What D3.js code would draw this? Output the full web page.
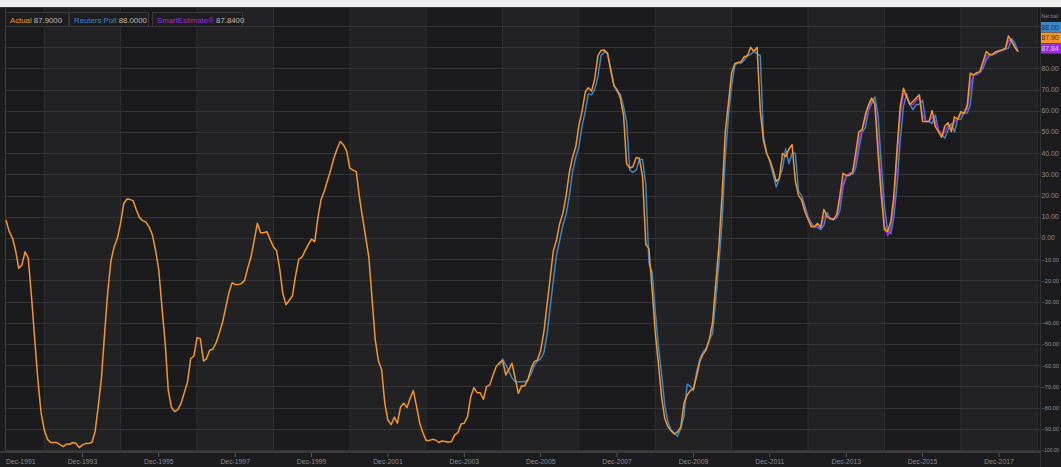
<!DOCTYPE html>
<html>
<head>
<meta charset="utf-8">
<script src="https://cdn.jsdelivr.net/npm/d3@7"></script>
<style>
html,body{margin:0;padding:0;background:#1c1c1e;overflow:hidden;}
svg{display:block;}
text{font-family:"Liberation Sans Narrow","Liberation Sans",Arial,sans-serif;}
</style>
</head>
<body>
<svg id="chart" width="1061" height="467"></svg>
<script>
// ---------------- DATA ----------------
const seriesNames = ["Actual", "Reuters Poll", "SmartEstimate®"];
const lastValues = [87.9, 88.0, 87.84];

// monthly values, Actual starts Dec 1991
const actualStart = "1991-12";
const actualValues = [
  8.5,3,0,-5.7,-14.3,-12.7,-6.5,-9.6,-27.7,-48,-67,-82.6,
  -90.6,-95,-96.5,-96.5,-96.5,-97.5,-98.4,-97.3,-97.3,-96.5,-97,-98.9,
  -97.6,-97,-96.8,-96.5,-91.4,-79.6,-66,-45,-25,-10.4,-4.1,0,
  7,16.4,18.4,18.2,17.5,13.2,9.5,8.2,7.5,5,1.5,-6,
  -15,-33,-50,-72,-80,-81.9,-81,-78,-73,-68,-57,-55.7,
  -47,-47.5,-58,-57,-53,-52.5,-49.5,-45,-40,-33,-26,-21.1,
  -22,-22,-21.4,-20,-14,-9,-1,6.9,2.5,2.5,3,-0.9,
  -4.1,-6,-15,-26,-31.5,-29.5,-27.4,-18,-10,-9,-6,-3,
  -0.5,-1.7,10,18,22,27,32,37.5,42,45.5,44,41,
  33,32,31.3,20,10,0.6,-9,-28,-48,-58,-62,-78,
  -86,-88,-84.5,-87.4,-79.6,-78,-80,-75.6,-72,-79.6,-87.4,-92,
  -95.5,-95.5,-95,-95.3,-96.5,-95.8,-96,-96.4,-96,-92.9,-91.8,-87.7,
  -87.4,-84.3,-74.9,-70.6,-73,-73,-76.1,-70.1,-69.3,-64.6,-60.7,-58.8,
  -57.9,-64.6,-61.9,-59.1,-66.2,-73.3,-69.7,-69.8,-66.7,-61.5,-58.3,-57.5,
  -53,-44,-31,-19,-6,-0.9,6.9,11.6,20,31,38,43,
  53,60,69,70.9,69.3,75,86,88.5,88.7,87.1,79.2,72,
  70,66,58,35,33,33.6,38,37.6,29,-3,-5,-25,
  -45,-60,-76,-85,-89,-91,-92.5,-91.5,-89.3,-78,-74.1,-72,
  -70.9,-65,-58,-55,-52.8,-48.1,-40,-22,-4,21,50,64,
  78,82.3,82.8,83.2,85.5,86,90,88,90,60,46,40,
  36.8,32.1,26.6,28.2,40,38.4,42,44,27,20,17.9,12.4,
  8.8,5.3,5.3,6.9,5,13.5,10,9.1,8.8,11,20,30.5,
  29.5,29.5,31.3,40,50.2,51,58,62.7,66,63,40,20,
  4,3,8,20,42,62,70.6,66.7,63,64.5,66,67.5,
  54.9,54.9,54.9,60.1,52.5,50.2,47.5,52.8,54.4,50.2,57.2,56,
  59.6,58.8,62.7,77.7,76.9,78,78.5,83.2,87.9,86.6,86.6,87.9,
  88.2,88.7,89.5,95.3,92.6,90,87.9
];

// Reuters Poll starts Nov 2004
const pollStart = "2004-11";
const pollValues = [
  -60,-57,-60,-63,-66,-67.8,-67.8,-67.8,-67.8,-67,-64,-60,
  -58,-57,-54,-45,-33,-20,-8,-1,6,11,20,31,
  38,43,53,60,68,67.5,70,76,86,87.9,87,80,
  72,69,68,62,55,32,31,32,37,37,25,-12,
  -16,-35,-52,-65,-79,-87,-90.6,-92,-93.5,-90,-84,-69,
  -70,-72,-63,-57,-54,-52,-48,-45,-30,-12,8,38,
  58,72,81.6,82.7,82.5,84,86,86.6,88,87,86,48,
  40,36,30,24,28,33,42,35,40,40,22,20,
  15,10,7,5.3,5,4,6,12,9,8.5,9.5,13,
  24,29,30.5,30,33,42,50,52,60,63.5,66.5,58,
  35,15,3,2,10,25,46,62,68,63,60.5,63,
  63,65,55,55,54,58,51,49,47,51,54,50,
  56,56,59,59,63,77,77,78,80,84,86,86.5,
  87,88,88.5,89,89.5,94,92,88
];

// SmartEstimate starts Oct 2012
const smartStart = "2012-10";
const smartValues = [
  18,13,9,6,5.3,6,5,10,11,9,8.8,10,
  17,26,29.5,30,31,36,46,51,56,61.5,65,64,
  45,25,6,1,5,16,38,58,68,67,63,63,
  65,66,58,55,55,57,55,51,48.5,50,53,51,
  55,56,58.5,59,61,72,77,77.5,78,81.5,86,86.2,
  86.6,87.5,88.5,88.7,89.3,93,93,90.5,87.84
];

const yTicks = d3.range(-100, 101, 10);
const xLabelYears = d3.range(1991, 2018, 2);   // Dec of odd years
const xGridYears = d3.range(1992, 2019, 2);    // Dec of even years

const colors = {actual:"#f4962c", poll:"#3a86c6", smart:"#9b2fdc"};

// ---------------- BUILD ----------------
(function(){
const W = 1061, H = 467;
const svg = d3.select("#chart");
const parseM = d3.timeParse("%Y-%m");
function toSeries(start, vals){
  const s = parseM(start);
  return vals.map((v,i)=>({date:d3.timeMonth.offset(s,i), value:v}));
}
const actual = toSeries(actualStart, actualValues);
const poll = toSeries(pollStart, pollValues);
const smart = toSeries(smartStart, smartValues);

const pL = 6, pR = 1040, pT = 8, pB = 451;
const x = d3.scaleTime()
  .domain([new Date(1991,11,1), new Date(2018,11,28)])
  .range([pL, pR]);
const y = d3.scaleLinear().domain([-100.5, 108.5]).range([pB, pT]);

svg.append("rect").attr("width",W).attr("height",H).attr("fill","#1c1c1e");
svg.append("rect").attr("width",W).attr("height",7).attr("fill","#ededed");
svg.append("rect").attr("y",7).attr("width",W).attr("height",1).attr("fill","#3a3a3c");

const plot = svg.append("g");
plot.append("rect").attr("x",pL).attr("y",pT).attr("width",pR-pL).attr("height",pB-pT).attr("fill","#1b1b1d");
xGridYears.forEach((yr,i)=>{
  if(i%2===0){
    const x0 = x(new Date(yr,11,1)), x1 = Math.min(pR, x(new Date(yr+2,11,1)));
    plot.append("rect").attr("x",x0).attr("y",pT).attr("width",x1-x0).attr("height",pB-pT).attr("fill","#222224");
  }
});
plot.selectAll("line.vg").data(xGridYears).enter().append("line")
  .attr("x1",d=>x(new Date(d,11,1))).attr("x2",d=>x(new Date(d,11,1)))
  .attr("y1",pT).attr("y2",pB).attr("stroke","#2f2f31").attr("stroke-width",1);
plot.selectAll("line.hg").data(yTicks).enter().append("line")
  .attr("x1",pL).attr("x2",pR)
  .attr("y1",d=>Math.round(y(d))+0.5).attr("y2",d=>Math.round(y(d))+0.5)
  .attr("stroke","#343436").attr("stroke-width",1);

svg.append("line").attr("x1",pL-0.5).attr("x2",pL-0.5).attr("y1",pT).attr("y2",pB+2).attr("stroke","#3d3d3f");
svg.append("line").attr("x1",pR+0.5).attr("x2",pR+0.5).attr("y1",pT).attr("y2",H).attr("stroke","#333335");
svg.append("rect").attr("x",0).attr("y",pB).attr("width",pR).attr("height",2).attr("fill","#3b3b3d");

const line = d3.line().x(d=>x(d.date)).y(d=>y(d.value));
svg.append("path").datum(poll).attr("d",line).attr("fill","none").attr("stroke",colors.poll).attr("stroke-width",1.5).attr("stroke-linejoin","round");
svg.append("path").datum(smart).attr("d",line).attr("fill","none").attr("stroke",colors.smart).attr("stroke-width",1.5).attr("stroke-linejoin","round");
svg.append("path").datum(actual).attr("d",line).attr("fill","none").attr("stroke",colors.actual).attr("stroke-width",1.5).attr("stroke-linejoin","round");

const fmt = d3.timeFormat("%b-%Y");
const xt = svg.append("g");
xLabelYears.forEach((yr,i)=>{
  const d = new Date(yr,11,1), px = x(d);
  if(i>0) xt.append("line").attr("x1",px).attr("x2",px).attr("y1",pB+2).attr("y2",pB+6).attr("stroke","#555557");
  xt.append("text").attr("x", i===0 ? pL : px).attr("y",464)
    .attr("text-anchor", i===0 ? "start" : "middle")
    .attr("font-size",6.8).attr("fill","#8c8c8e").text(fmt(d));
});

// shrink a right-edge text's font until it fits the available width
const labX = 1041.5, maxW = 17.5;
function fit(t){
  let fs = +t.attr("font-size");
  let w = t.node().getComputedTextLength();
  if(w > maxW){
    fs = fs * maxW / w;
    t.attr("font-size", fs.toFixed(2));
  }
  return t;
}

const tagColors = [colors.poll, colors.actual, colors.smart];
const tagVals = [lastValues[1], lastValues[0], lastValues[2]];
const tagText = ["#1d3a5a","#4a2a08","#e6c8ff"];
const tagTop = 22, tagH = 10.6;
const tagBottom = tagTop + tagH*tagVals.length;

const ya = svg.append("g");
yTicks.filter(v=>y(v)-4 > tagBottom).forEach(v=>{
  fit(ya.append("text").attr("x",labX).attr("y",y(v)+2.5).attr("font-size",6.8).attr("fill","#8c8c8e")
    .text(d3.format(".2f")(v)));
});
fit(ya.append("text").attr("x",labX).attr("y",18).attr("font-size",6.3).attr("fill","#8c8c8e").text("Net bal."));

tagVals.forEach((v,i)=>{
  const ty = tagTop + i*tagH;
  svg.append("rect").attr("x",pR+1).attr("y",ty).attr("width",W-pR).attr("height",tagH-0.2).attr("fill",tagColors[i]);
  fit(svg.append("text").attr("x",labX).attr("y",ty+7.8).attr("font-size",6.8).attr("fill",tagText[i]).text(d3.format(".2f")(v)));
});

const leg = [
  {name:seriesNames[0], val:lastValues[0], col:colors.actual, x0:5, x1:68},
  {name:seriesNames[1], val:lastValues[1], col:colors.poll, x0:69, x1:148},
  {name:seriesNames[2], val:lastValues[2], col:colors.smart, x0:152, x1:242}
];
leg.forEach(l=>{
  svg.append("rect").attr("x",l.x0+0.5).attr("y",12.5).attr("width",l.x1-l.x0).attr("height",14)
    .attr("fill","#1e1e20").attr("stroke","#38383a");
  const t = svg.append("text").attr("x",l.x0+5).attr("y",22.6).attr("font-size",7.8);
  t.append("tspan").attr("fill",l.col).text(l.name);
  t.append("tspan").attr("fill","#bdbdbd").text(" " + d3.format(".4f")(l.val));
});
})();
</script>
</body>
</html>
